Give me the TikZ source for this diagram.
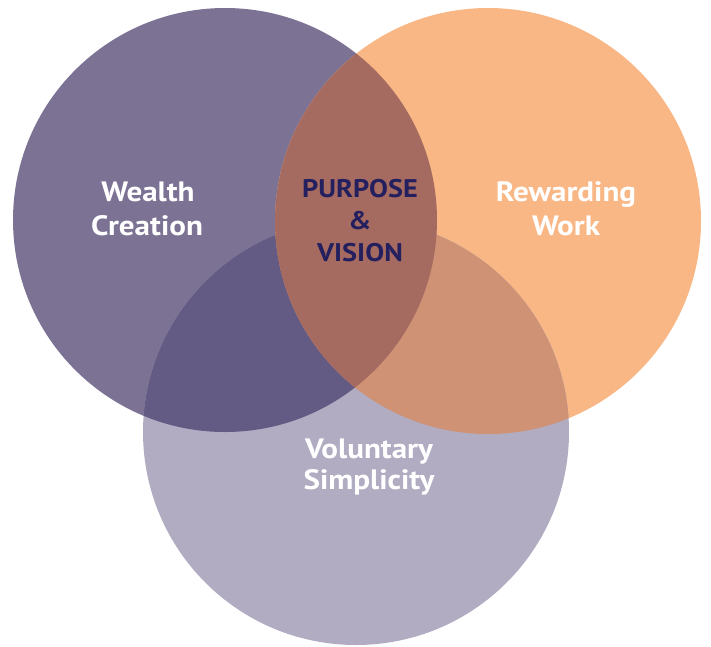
\documentclass[tikz,border=0pt]{standalone}
\usepackage{fontspec}
\setmainfont{PT Sans}
\newfontfamily\lblfont[FakeStretch=1.11]{PT Sans}
\definecolor{cL}{HTML}{7B7294}
\definecolor{cR}{HTML}{F8B785}
\definecolor{cB}{HTML}{B1ACC2}
\definecolor{cLR}{HTML}{A56A60}
\definecolor{cLB}{HTML}{635B84}
\definecolor{cRB}{HTML}{D09274}
\definecolor{cT}{HTML}{241F5E}
\tikzset{
  lbl/.style={text=white, font=\lblfont\bfseries\fontsize{28}{34}\selectfont, anchor=base, inner sep=0pt},
  core/.style={text=cT, font=\lblfont\bfseries\fontsize{25.5}{30}\selectfont, anchor=base, inner sep=0pt}
}
\begin{document}
\begin{tikzpicture}[x=1pt,y=-1pt]
\useasboundingbox (0,0) rectangle (711,646);
\coordinate (cl) at (225,220);
\coordinate (cr) at (488,221);
\coordinate (cb) at (356,432);
\fill[cL] (cl) circle (212pt);
\fill[cR] (cr) circle (213pt);
\fill[cB] (cb) circle (213pt);
\begin{scope}\clip (cl) circle (212pt); \fill[cLB] (cb) circle (213pt);\end{scope}
\begin{scope}\clip (cr) circle (213pt); \fill[cRB] (cb) circle (213pt);\end{scope}
\begin{scope}\clip (cl) circle (212pt); \fill[cLR] (cr) circle (213pt);\end{scope}
\node[lbl] (w1) at (148,201.5) {Wealth};
\node[lbl] (w2) at (147,235) {Creation};
\node[lbl] (r1) at (566,201.5) {Rewarding};
\node[lbl] (r2) at (566,235) {Work};
\node[lbl] (v1) at (369,458) {Voluntary};
\node[lbl] (v2) at (369,489) {Simplicity};
\node[core] (p1) at (360,197) {PURPOSE};
\node[core] (p2) at (360,229) {\&};
\node[core] (p3) at (360,261) {VISION};
\end{tikzpicture}
\end{document}
